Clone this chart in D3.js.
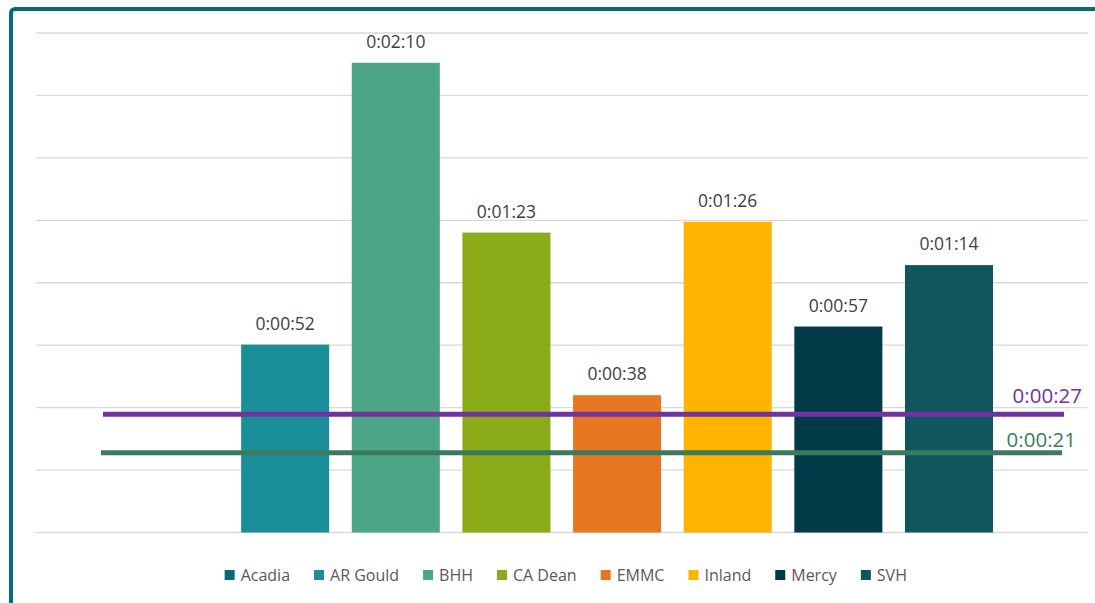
<!DOCTYPE html>
<html>
<head>
<meta charset="utf-8">
<script src="https://cdn.jsdelivr.net/npm/d3@7"></script>
<style>
  html, body { margin: 0; padding: 0; background: #ffffff; }
  svg { display: block; }
</style>
</head>
<body>
<svg id="chart" width="1095" height="603"></svg>
<script>
// ---- data ----
const categories = ["Acadia", "AR Gould", "BHH", "CA Dean", "EMMC", "Inland", "Mercy", "SVH"];
const valuesSec = [null, 52, 130, 83, 38, 86, 57, 74];          // seconds
const colors = ["#0b6873", "#1a8f9a", "#4da686", "#8bab18", "#e87722", "#ffb400", "#003b47", "#10565e"];
const axisMaxSec = 138.24;       // 0.0016 day
const tickStepSec = 17.28;       // 0.0002 day
const refLineNames = ["purple", "green"];
const refLineValuesSec = [32.7, 22.1];       // as drawn in the picture
const refLineLabels = ["0:00:27", "0:00:21"];
const refLineColors = ["#7232a0", "#3c7a5f"];

function fmt(s) {
  const h = Math.floor(s / 3600), m = Math.floor((s % 3600) / 60), sec = Math.round(s % 60);
  return h + ":" + String(m).padStart(2, "0") + ":" + String(sec).padStart(2, "0");
}

const svg = d3.select("#chart");
const plot = { left: 36, right: 1087.5, top: 33, bottom: 532.5 };

// outer border
svg.append("rect")
  .attr("x", 11).attr("y", 9).attr("width", 1300).attr("height", 800)
  .attr("rx", 4).attr("ry", 4)
  .attr("fill", "none").attr("stroke", "#086c78").attr("stroke-width", 4);

const y = d3.scaleLinear().domain([0, axisMaxSec]).range([plot.bottom, plot.top]);
const x = d3.scaleBand().domain(categories).range([plot.left, plot.right])
  .paddingInner(0.2043).paddingOuter(0.854);

// gridlines
const ticks = d3.range(0, axisMaxSec + 1e-6, tickStepSec);
svg.append("g").selectAll("line").data(ticks).join("line")
  .attr("x1", plot.left).attr("x2", plot.right)
  .attr("y1", d => y(d)).attr("y2", d => y(d))
  .attr("stroke", "#d9d9d9").attr("stroke-width", 1.3);

const data = categories.map((c, i) => ({ c, v: valuesSec[i], color: colors[i] }));
const barData = data.filter(d => d.v != null);

// bars
svg.append("g").selectAll("rect").data(barData).join("rect")
  .attr("x", d => x(d.c)).attr("width", x.bandwidth())
  .attr("y", d => y(d.v)).attr("height", d => y(0) - y(d.v))
  .attr("fill", d => d.color);

// data labels
svg.append("g").selectAll("text").data(barData).join("text")
  .attr("x", d => x(d.c) + x.bandwidth() / 2)
  .attr("y", d => y(d.v) - 14.7)
  .attr("text-anchor", "middle")
  .attr("font-family", "'Open Sans', sans-serif")
  .attr("font-size", 17.5)
  .attr("fill", "#404040")
  .text(d => fmt(d.v));

// reference lines
const refStarts = [plot.left + 67, plot.left + 65];
const refEnds = [plot.right - 23.5, plot.right - 25.5];
const labelEnds = [1082, 1076];
const labelOffsets = [-11.3, -6];
refLineNames.forEach((n, i) => {
  const yy = y(refLineValuesSec[i]);
  svg.append("line")
    .attr("x1", refStarts[i]).attr("x2", refEnds[i])
    .attr("y1", yy).attr("y2", yy)
    .attr("stroke", refLineColors[i]).attr("stroke-width", 5);
  svg.append("text")
    .attr("x", labelEnds[i]).attr("y", yy + labelOffsets[i])
    .attr("text-anchor", "end")
    .attr("font-family", "'Open Sans', sans-serif")
    .attr("font-size", 20.5)
    .attr("fill", refLineColors[i])
    .text(refLineLabels[i]);
});

// legend
const legend = svg.append("g");
const lgFont = 16;
const lgGap = 24;
let cx = 0;
const items = [];
data.forEach(d => {
  const t = legend.append("text")
    .attr("font-family", "'Open Sans', sans-serif")
    .attr("font-size", lgFont)
    .attr("fill", "#595959")
    .attr("dominant-baseline", "central")
    .text(d.c);
  const w = t.node().getComputedTextLength();
  items.push({ d, t, x: cx, w });
  cx += 10 + 6 + w + lgGap;
});
const total = cx - lgGap;
const startX = 565.8 - total / 2;
const ly = 575;
items.forEach(it => {
  legend.append("rect")
    .attr("x", startX + it.x).attr("y", ly - 5)
    .attr("width", 10).attr("height", 10)
    .attr("fill", it.d.color);
  it.t.attr("x", startX + it.x + 16).attr("y", ly - 0.5);
});
</script>
</body>
</html>
